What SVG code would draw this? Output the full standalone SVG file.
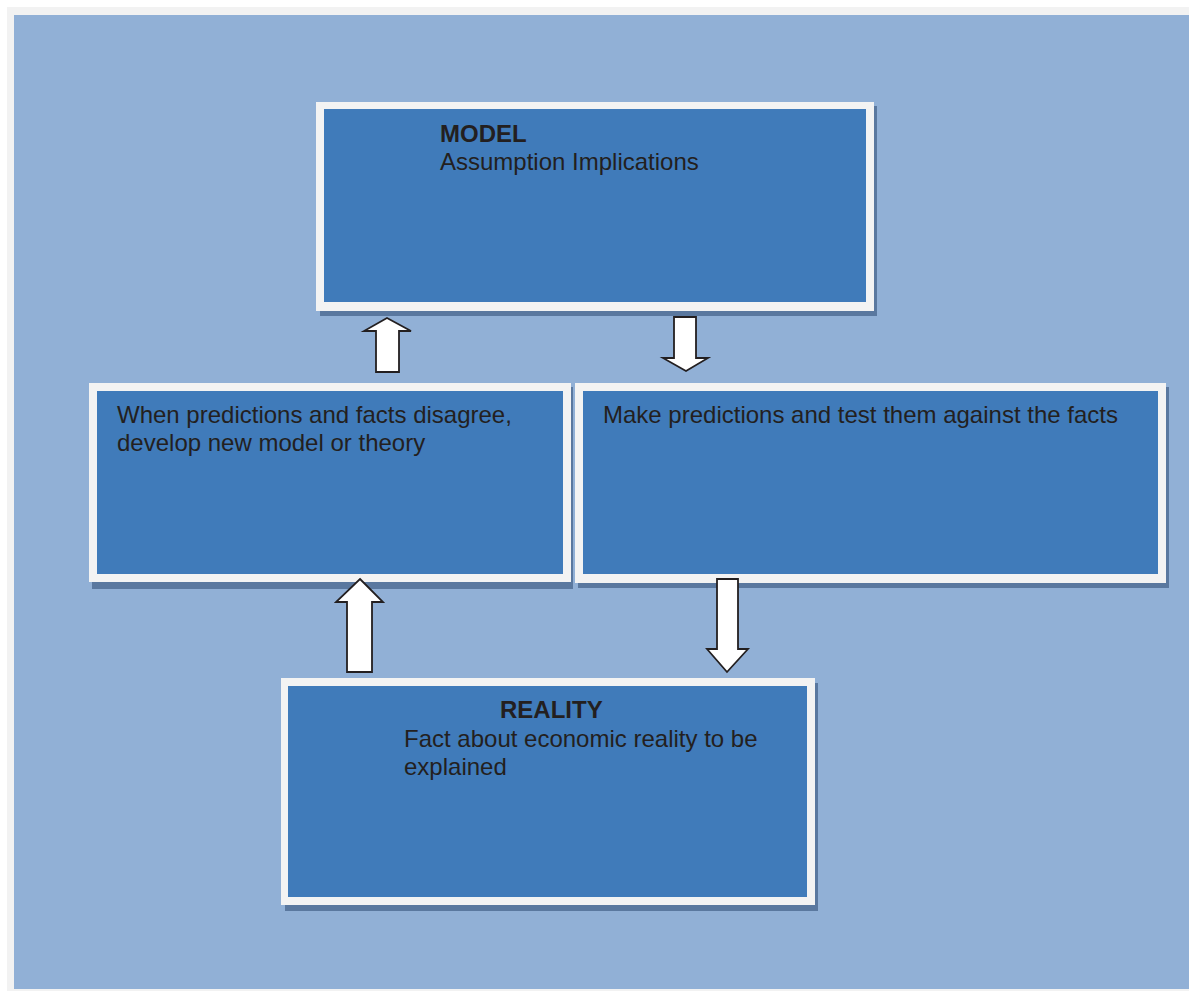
<svg xmlns="http://www.w3.org/2000/svg" width="1189" height="991" viewBox="0 0 1189 991">
<style>
.frame{fill:#f2f2f2}
.bg{fill:#91b0d6}
.shadow{fill:#5a789f}
.outer{fill:#f3f3f3}
.inner{fill:#407bba}
.t{font-family:"Liberation Sans",Arial,sans-serif;font-size:24px;fill:#231f20}
.b{font-weight:bold}
.arrow{fill:#ffffff;stroke:#231f20;stroke-width:1.8;stroke-linejoin:miter}
</style>
<rect x="0" y="0" width="1189" height="991" fill="#ffffff"/>
<rect class="frame" x="7" y="7" width="1182" height="984"/>
<rect class="bg" x="14" y="15" width="1175" height="974"/>
<g id="model">
<rect class="shadow" x="320" y="106" width="557" height="210"/>
<rect class="outer" x="316" y="102" width="558" height="209"/>
<rect class="inner" x="324" y="109" width="542" height="193"/>
<text class="t b" x="440" y="141.5">MODEL</text>
<text class="t" x="440" y="169.5">Assumption Implications</text>
</g>
<g id="disagree">
<rect class="shadow" x="92" y="387" width="481" height="202"/>
<rect class="outer" x="89" y="383" width="482" height="199"/>
<rect class="inner" x="97" y="391" width="466" height="183"/>
<text class="t" x="117" y="423">When predictions and facts disagree,</text>
<text class="t" x="117" y="451">develop new model or theory</text>
</g>
<g id="predict">
<rect class="shadow" x="578" y="387" width="591" height="201"/>
<rect class="outer" x="575" y="383" width="591" height="200"/>
<rect class="inner" x="583" y="391" width="575" height="183"/>
<text class="t" x="603" y="423">Make predictions and test them against the facts</text>
</g>
<g id="reality">
<rect class="shadow" x="285" y="683" width="533" height="228"/>
<rect class="outer" x="281" y="678" width="534" height="227"/>
<rect class="inner" x="288" y="686" width="519" height="211"/>
<text class="t b" x="500" y="717.5">REALITY</text>
<text class="t" x="404" y="746.5">Fact about economic reality to be</text>
<text class="t" x="404" y="774.5">explained</text>
</g>
<g id="connectors">
<polygon class="arrow" points="387,318 411,331 399,331 399,372 376,372 376,331 364,331"/>
<polygon class="arrow" points="674,317 696,317 696,358 708,358 686,371 663,358 674,358"/>
<polygon class="arrow" points="360,579 383,602 372,602 372,672 347,672 347,602 336,602"/>
<polygon class="arrow" points="717,579 738,579 738,649 748,649 727,672 707,649 717,649"/>
</g>
</svg>
